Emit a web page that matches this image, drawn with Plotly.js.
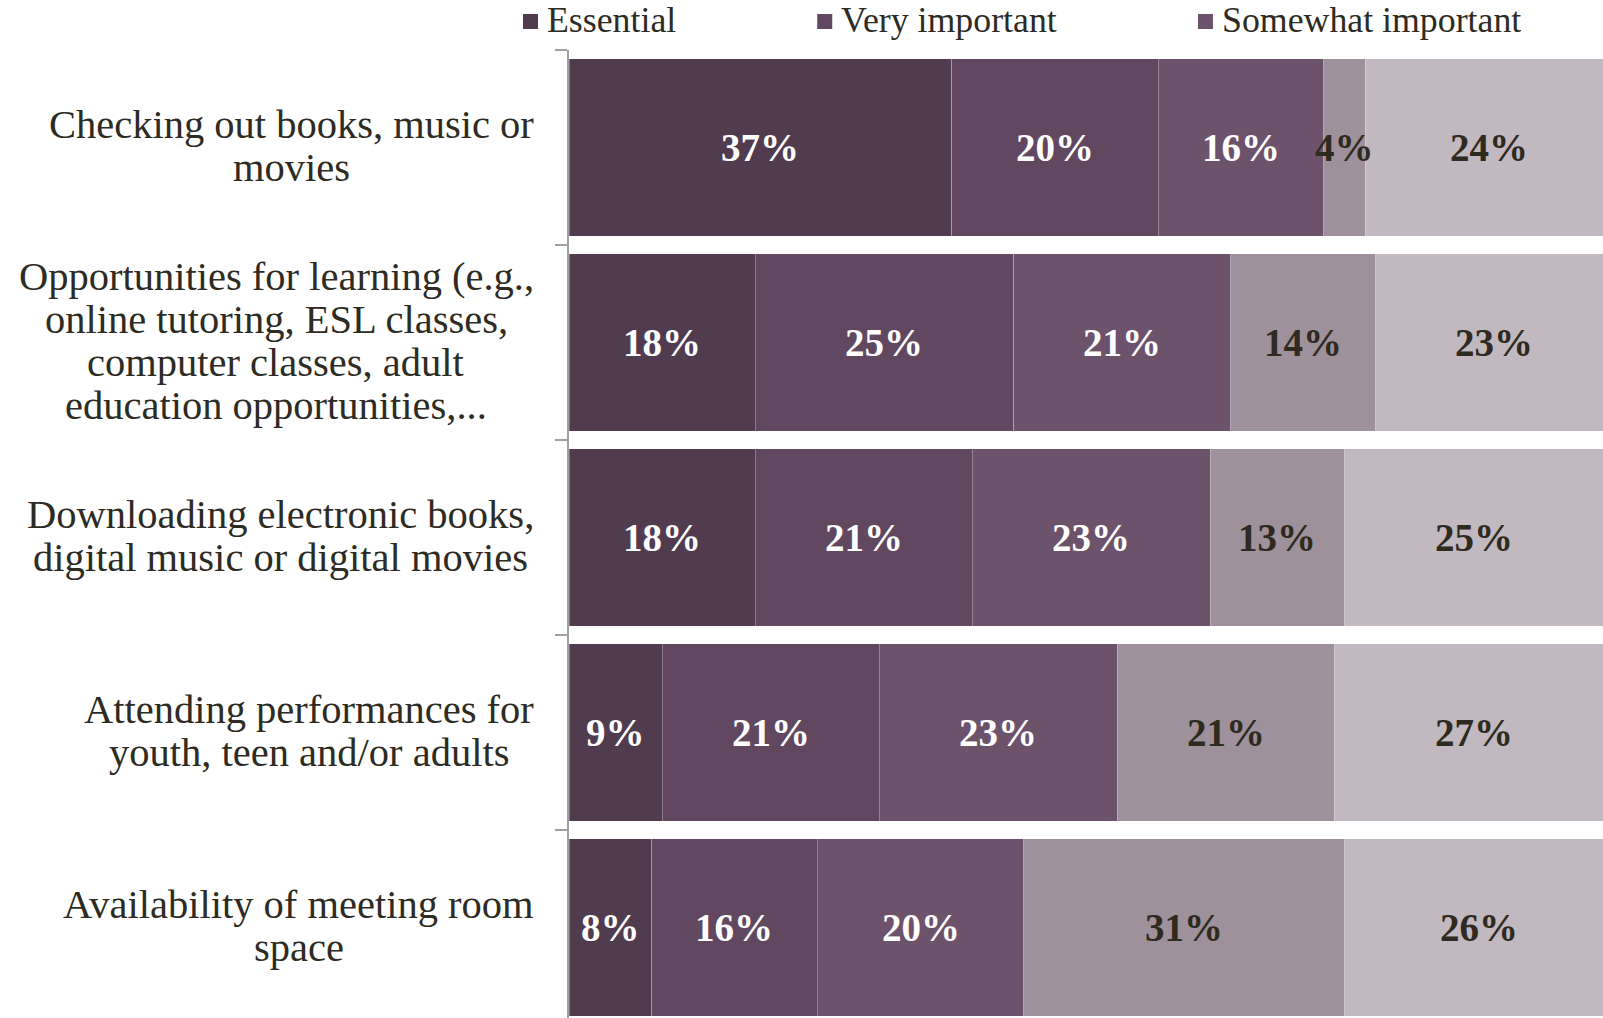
<!DOCTYPE html>
<html>
<head>
<meta charset="utf-8">
<script src="https://cdn.plot.ly/plotly-3.0.1.min.js"></script>
<style>
  html, body { margin: 0; padding: 0; background: #ffffff; }
  #chart { width: 1603px; height: 1018px; }
</style>
</head>
<body>
<div id="chart"></div>
<script>
// ---- data ----
const categories = [
  "Checking out books, music or<br>movies",
  "Opportunities for learning (e.g.,<br>online tutoring, ESL classes,<br>computer classes, adult<br>education opportunities,...",
  "Downloading electronic books,<br>digital music or digital movies",
  "Attending performances for<br>youth, teen and/or adults",
  "Availability of meeting room<br>space"
];
const seriesNames = ["Essential", "Very important", "Somewhat important", "Not too important", "Not at all important"];
const essential         = [37, 18, 18, 9, 8];
const veryImportant     = [20, 25, 21, 21, 16];
const somewhatImportant = [16, 21, 23, 23, 20];
const notTooImportant   = [4, 14, 13, 21, 31];
const notImportant      = [24, 23, 25, 27, 26];

// ---- styles ----
const W = 1603, H = 1018;
const M = { l: 569, r: 0, t: 50, b: 0 };
const colors = ["#513B4F", "#614860", "#6D526B", "#9E919C", "#C1B8C0"];
const textColors = ["#FFFFFF", "#FFFFFF", "#FFFFFF", "#2E2A20", "#2E2A20"];
const labelColor = "#2D2B23";
const serif = "Liberation Serif";

const values = [essential, veryImportant, somewhatImportant, notTooImportant, notImportant];

const traces = values.map((vals, i) => ({
  type: "bar",
  orientation: "h",
  name: seriesNames[i],
  y: categories,
  x: vals,
  textposition: "none",
  marker: { color: colors[i], line: { color: "rgba(255,255,255,0.28)", width: 1 } },
  hoverinfo: "none",
  showlegend: false
}));

const annotations = [];

// value labels drawn on top of all bars (centre of each stacked segment)
categories.forEach((cat, j) => {
  let base = 0;
  values.forEach((vals, i) => {
    annotations.push({
      text: vals[j] + "%",
      xref: "x", x: base + vals[j] / 2, xanchor: "center",
      yref: "y", y: cat, yanchor: "middle", yshift: 0,
      showarrow: false,
      font: { family: serif, size: 39, weight: "bold", color: textColors[i] }
    });
    base += vals[j];
  });
});

// measure text widths for label centring
const cv = document.createElement("canvas").getContext("2d");
function textWidth(str, size) {
  cv.font = size + "px '" + serif + "'";
  return cv.measureText(str).width;
}

// category labels: one annotation per line, centred within a right-aligned block
const labelSize = 40.5, lineGap = 43, labelRight = 534;
categories.forEach(cat => {
  const lines = cat.split("<br>");
  const maxW = Math.max(...lines.map(l => textWidth(l, labelSize)));
  const centre = labelRight - maxW / 2;
  lines.forEach((line, k) => {
    annotations.push({
      text: line,
      xref: "paper", x: 0, xanchor: "center", xshift: centre - M.l,
      yref: "y", y: cat, yanchor: "middle",
      yshift: -(k - (lines.length - 1) / 2) * lineGap + 2,
      showarrow: false,
      font: { family: serif, size: labelSize, color: labelColor }
    });
  });
});

// legend (manual, top) – entries that fit inside the picture
const shapes = [];
const legendSize = 35.8;
let lx = 523;
seriesNames.forEach((name, i) => {
  const tx = lx + 22;
  const tw = textWidth(name, legendSize);
  if (tx + tw <= W) {
    shapes.push({
      type: "rect", xref: "paper", yref: "paper",
      xsizemode: "pixel", ysizemode: "pixel", xanchor: 0, yanchor: 1,
      x0: lx - M.l, x1: lx + 15 - M.l, y0: M.t - 29, y1: M.t - 14,
      fillcolor: colors[i], line: { width: 0 }
    });
    annotations.push({
      text: name,
      xref: "paper", x: 0, xanchor: "left", xshift: tx - M.l,
      yref: "paper", y: 1, yanchor: "middle", yshift: M.t - 20,
      showarrow: false,
      font: { family: serif, size: legendSize, color: labelColor }
    });
  }
  lx = tx + tw + 143;
});

const layout = {
  width: W, height: H,
  margin: M,
  paper_bgcolor: "#FFFFFF",
  plot_bgcolor: "#FFFFFF",
  barmode: "stack",
  bargap: 0.09,
  showlegend: false,
  xaxis: {
    range: [0, 100],
    visible: false,
    showgrid: false, zeroline: false, fixedrange: true
  },
  yaxis: {
    type: "category",
    categoryorder: "array",
    categoryarray: categories,
    range: [4.464, -0.5],
    showticklabels: false,
    showgrid: false, zeroline: false,
    showline: true, linecolor: "#A0A0A0", linewidth: 2,
    ticks: "outside", tickson: "boundaries", ticklen: 12, tickwidth: 2, tickcolor: "#A0A0A0",
    fixedrange: true
  },
  annotations: annotations,
  shapes: shapes
};

Plotly.newPlot("chart", traces, layout, { displayModeBar: false, staticPlot: true });
</script>
</body>
</html>
